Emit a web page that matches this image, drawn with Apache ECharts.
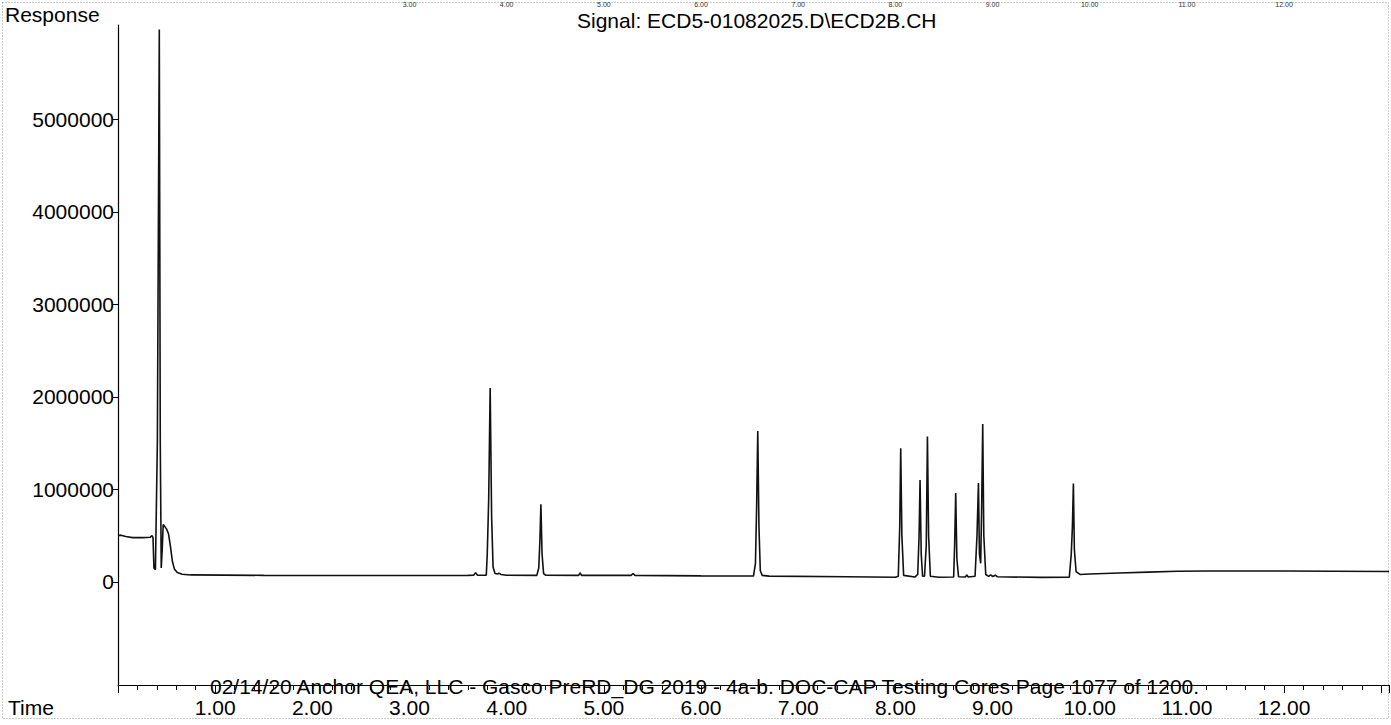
<!DOCTYPE html>
<html>
<head>
<meta charset="utf-8">
<script src="https://cdn.jsdelivr.net/npm/echarts@6/dist/echarts.min.js"></script>
<style>
html,body{margin:0;padding:0;background:#fff;}
#c{width:1391px;height:725px;}
</style>
</head>
<body>
<div id="c"></div>
<script>
// Retention time (min)
const retentionTime = [
  0.005, 0.03, 0.08, 0.15, 0.25, 0.33, 0.35, 0.36, 0.37, 0.385, 0.405, 0.425, 0.435, 0.445, 0.455, 0.465, 0.48, 0.50, 0.52, 0.54, 0.56, 0.58, 0.61, 0.66, 0.75,
  1.5, 2.5, 3.3, 3.6, 3.66, 3.68, 3.70, 3.79, 3.80, 3.815, 3.83, 3.845, 3.86, 3.88, 3.91, 3.92, 3.94, 4.0,
  4.31, 4.33, 4.342, 4.352, 4.364, 4.38, 4.40, 4.74, 4.756, 4.77, 5.28, 5.30, 5.32, 6.0,
  6.54, 6.56, 6.572, 6.584, 6.596, 6.61, 6.63, 6.7, 7.5, 8.0,
  8.03, 8.045, 8.055, 8.067, 8.085, 8.2, 8.23, 8.244, 8.254, 8.266, 8.28, 8.3, 8.318, 8.33, 8.342, 8.36, 8.45,
  8.6, 8.61, 8.621, 8.633, 8.65, 8.72, 8.735, 8.75, 8.82, 8.84, 8.855, 8.865, 8.878, 8.888, 8.899, 8.91, 8.93,
  8.96, 8.98, 9.0, 9.03, 9.05, 9.5, 9.79, 9.81, 9.822, 9.832, 9.842, 9.86, 9.9,
  10.0, 10.3, 10.6, 10.9, 11.2, 12.0, 12.5, 13.08
];
// Detector response
const response = [
  500000, 505000, 490000, 478000, 478000, 482000, 500000, 480000, 150000, 130000, 1500000, 5970000, 1500000, 150000, 350000, 620000, 600000, 570000, 520000, 380000, 220000, 140000, 100000, 82000, 75000,
  70000, 68000, 68000, 70000, 72000, 100000, 72000, 72000, 300000, 900000, 2096000, 700000, 160000, 90000, 85000, 95000, 80000, 72000,
  70000, 150000, 450000, 840000, 300000, 90000, 72000, 70000, 97000, 70000, 70000, 90000, 70000, 65000,
  63000, 200000, 800000, 1630000, 600000, 120000, 70000, 62000, 55000, 50000,
  60000, 600000, 1443000, 500000, 70000, 52000, 80000, 500000, 1100000, 300000, 60000, 60000, 400000, 1572000, 500000, 60000, 50000,
  52000, 400000, 960000, 250000, 55000, 52000, 75000, 52000, 60000, 500000, 1068000, 300000, 200000, 800000, 1707000, 500000, 80000,
  60000, 75000, 58000, 72000, 55000, 48000, 50000, 300000, 600000, 1064000, 350000, 110000, 80000,
  85000, 95000, 105000, 115000, 118000, 118000, 115000, 112000
];
const xLabelValues = [1,2,3,4,5,6,7,8,9,10,11,12];
const yLabelValues = [0, 1000000, 2000000, 3000000, 4000000, 5000000];
const topCutLabelValues = [3,4,5,6,7,8,9,10,11,12];

const chart = echarts.init(document.getElementById('c'), null, {renderer: 'svg'});
const FONT = 'Liberation Sans, Arial, Helvetica, sans-serif';
const FS = 21;
const seriesData = retentionTime.map((t, i) => [t, response[i]]);

chart.setOption({
  animation: false,
  backgroundColor: '#fff',
  title: {
    text: 'Signal: ECD5-01082025.D\\ECD2B.CH',
    left: 577, top: 10, padding: 0,
    textStyle: {fontFamily: FONT, fontSize: FS, fontWeight: 'normal', color: '#000'}
  },
  grid: {left: 118, right: 2, top: 25, bottom: 40, containLabel: false, outerBoundsMode: 'none'},
  xAxis: [{
    type: 'value', min: 0, max: 13.08, interval: 1,
    axisLine: {show: true, onZero: false, lineStyle: {color: '#000', width: 1.2}},
    axisTick: {show: true, inside: false, length: 8, lineStyle: {color: '#000'}},
    minorTick: {show: true, splitNumber: 5, length: 5, lineStyle: {color: '#000'}},
    splitLine: {show: false},
    axisLabel: {
      customValues: xLabelValues,
      formatter: v => v.toFixed(2),
      fontFamily: FONT, fontSize: FS, color: '#000', margin: 12
    }
  }, {
    type: 'value', min: 0, max: 13.08, position: 'top', offset: 16,
    axisLine: {show: false}, axisTick: {show: false}, splitLine: {show: false},
    axisLabel: {
      customValues: topCutLabelValues,
      formatter: v => v.toFixed(2),
      fontFamily: FONT, fontSize: 7, color: '#333', margin: 1
    }
  }],
  yAxis: {
    type: 'value', min: -1115000, max: 6020000,
    axisLine: {show: true, onZero: false, lineStyle: {color: '#000', width: 1.2}},
    axisTick: {show: true, customValues: yLabelValues, length: 5, lineStyle: {color: '#000'}},
    splitLine: {show: false},
    axisLabel: {
      customValues: yLabelValues,
      formatter: v => String(v),
      fontFamily: FONT, fontSize: FS, color: '#000', margin: 4
    }
  },
  graphic: [
    {type: 'rect', silent: true, shape: {x: 2.5, y: 2.5, width: 1386, height: 716},
     style: {fill: 'none', stroke: '#999', lineWidth: 1, lineDash: [1, 2]}},
    {type: 'text', left: 5, top: 4, style: {text: 'Response', fontFamily: FONT, fontSize: FS, fill: '#000'}},
    {type: 'text', left: 8, top: 697, style: {text: 'Time', fontFamily: FONT, fontSize: FS, fill: '#000'}},
    {type: 'text', left: 210, top: 676, z: 0,
     style: {text: '02/14/20 Anchor QEA, LLC - Gasco PreRD_DG 2019 - 4a-b. DOC-CAP Testing Cores Page 1077 of 1200.',
             fontFamily: FONT, fontSize: FS, fill: '#000'}}
  ],
  series: [{
    type: 'line', data: seriesData, showSymbol: false, symbol: 'none',
    lineStyle: {color: '#111', width: 1.6}, clip: true
  }]
});
</script>
</body>
</html>
